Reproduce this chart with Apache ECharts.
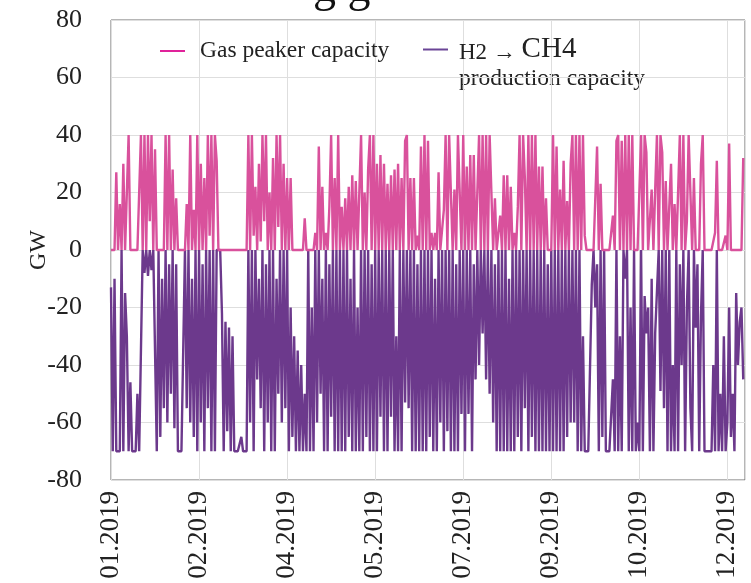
<!DOCTYPE html>
<html><head><meta charset="utf-8">
<script src="https://cdn.jsdelivr.net/npm/echarts@6/dist/echarts.min.js"></script>
<style>html,body{margin:0;padding:0;background:#fff}#c{width:751px;height:583px}</style>
</head><body><div id="c"></div>
<script>
// x positions are day-of-year indices (0..359); tick every 50 days
const xTickLabels = ['01.2019','02.2019','04.2019','05.2019','07.2019','09.2019','10.2019','12.2019'];

// Gas peaker capacity (GW), one value per day
const gasPeaker = [
  0,0,0,27,0,16,0,30,0,0,
  40,0,0,0,0,0,0,40,0,40,
  0,40,10,40,0,35,0,0,0,0,
  0,40,0,40,0,28,0,18,0,0,
  0,0,0,16,0,40,0,14,0,40,
  0,30,0,25,0,40,5,40,0,40,
  31,0,0,0,0,0,0,0,0,0,
  0,0,0,0,0,0,0,0,40,0,
  40,5,22,0,30,3,40,10,40,0,
  20,0,32,0,40,8,40,0,30,0,
  25,0,25,0,0,0,0,0,0,0,
  11,0,0,0,0,0,6,0,36,0,
  22,0,6,0,15,40,0,25,0,40,
  0,15,0,18,0,22,0,26,0,24,
  0,20,40,0,20,0,28,40,0,40,
  0,30,0,33,0,30,0,23,0,26,
  0,28,0,30,0,25,0,38,40,0,
  25,0,25,0,5,0,36,0,40,0,
  38,0,6,0,6,0,27,0,0,14,
  40,0,40,20,0,21,0,40,40,0,
  40,0,29,0,33,0,33,0,0,40,
  0,40,0,40,0,40,40,0,18,0,
  0,12,0,26,0,26,0,22,0,6,
  0,15,40,0,40,25,0,40,0,40,
  0,40,0,29,0,29,0,18,0,0,
  0,40,0,36,0,21,0,31,0,17,
  0,30,40,0,40,0,40,0,40,5,
  0,0,0,0,0,0,36,0,23,0,
  0,0,0,0,0,12,0,38,40,0,
  38,0,40,0,40,0,40,0,0,0,
  0,40,0,40,34,0,0,21,0,21,
  40,0,40,34,0,24,0,15,30,0,
  16,0,0,40,0,40,0,10,40,40,
  0,25,0,0,0,30,40,0,0,0,
  0,0,0,6,31,0,0,0,0,5,
  0,37,0,0,0,0,0,0,0,32
];

// H2 -> CH4 production capacity (GW, negative), one value per day
const h2ToCh4 = [
  -13,-70,-10,-70,-70,-70,0,-70,-15,-30,
  -70,-46,-70,-70,-70,-50,-70,-70,0,-8,
  0,-9,0,-7,0,0,-70,0,-65,-10,
  -55,0,-60,-5,-50,0,-62,-5,-70,-70,
  -70,-70,0,-55,0,-60,-10,-65,0,-70,
  0,-60,-5,-70,0,-55,0,-70,0,-70,
  0,0,0,-22,-70,-25,-63,-27,-70,-30,
  -70,-70,-70,-70,-65,-70,-70,-70,0,-60,
  0,-70,0,-45,-10,-55,0,-70,-5,-60,
  0,-70,0,-70,-10,-50,0,-60,0,-55,
  0,-70,-20,-65,-30,-70,-35,-70,-40,-70,
  -50,-70,0,-70,-20,-70,0,-60,0,-50,
  -10,-70,0,-70,-5,-58,0,-70,0,-70,
  0,-70,0,-70,0,-65,-10,-70,0,-70,
  -20,-70,0,-70,0,-65,0,-70,-5,-70,
  0,-70,0,-58,0,-70,0,-70,0,-58,
  0,-70,-30,-70,0,-70,0,-53,0,-55,
  0,-70,0,-70,-5,-70,0,-70,0,-70,
  0,-65,0,-70,-10,-70,0,-60,0,-70,
  0,-63,0,-70,0,-70,-5,-70,0,-57,
  0,-70,0,-57,0,-70,-5,-45,0,-40,
  0,-29,0,-45,0,-50,0,-60,-5,-70,
  0,-70,0,-70,0,-70,-10,-70,0,-70,
  0,-65,0,-70,0,-55,0,-70,0,-65,
  0,-70,0,-70,0,-70,0,-70,-5,-70,
  0,-70,0,-70,0,-70,0,-70,0,-65,
  0,-60,0,-60,0,-70,0,-70,-30,-70,
  -70,-70,-70,-12,0,-20,-5,-70,0,-65,
  0,-70,-70,-70,-70,-45,-70,0,-70,-30,
  -70,0,-10,0,-70,-20,-70,0,-70,-60,
  -70,0,-70,-16,-29,-20,-70,-10,-70,-29,
  -29,0,-49,0,-55,0,-70,0,-70,-40,
  -70,0,-70,-5,-40,0,-70,-20,0,-55,
  -70,0,-27,-5,-70,-23,0,-70,-70,-70,
  -70,-70,-40,-70,0,-70,-50,-70,-30,-70,
  -60,-20,-65,-50,-70,-15,-40,-25,-20,-45
];

const seriesNames = ['Gas peaker capacity', 'H2 \u2192 CH4 production capacity'];

const FONT = '"Liberation Serif","Times New Roman",serif';
const toPairs = arr => arr.map((v, i) => [i, v]);

const chart = echarts.init(document.getElementById('c'));
chart.setOption({
  animation: false,
  backgroundColor: '#fff',
  grid: {left: 111, right: 6, top: 20, bottom: 103, show: true, borderColor: '#6d6d6d', borderWidth: 1},
  xAxis: {
    type: 'value', min: 0, max: 360, interval: 50,
    axisLine: {show: false}, axisTick: {show: false},
    splitLine: {lineStyle: {color: '#dedede', width: 1}},
    axisLabel: {rotate: 90, margin: 11, fontFamily: FONT, fontSize: 27, color: '#222',
      formatter: v => xTickLabels[v / 50] || ''}
  },
  yAxis: {
    type: 'value', min: -80, max: 80, interval: 20,
    name: 'GW', nameLocation: 'middle', nameGap: 60, nameMoveOverlap: false,
    nameTextStyle: {fontFamily: FONT, fontSize: 24, color: '#222'},
    axisLine: {show: false}, axisTick: {show: false},
    splitLine: {lineStyle: {color: '#dedede', width: 1}},
    axisLabel: {margin: 29, fontFamily: FONT, fontSize: 26, color: '#222'}
  },
  legend: [
    {
      data: [{name: seriesNames[0], itemStyle: {color: '#e0229a'}}],
      left: 155, top: 34, icon: 'rect', itemWidth: 25, itemHeight: 2,
      textStyle: {fontFamily: FONT, fontSize: 23.5, color: '#222', padding: [0, 0, 0, 10]}
    },
    {
      data: [{name: seriesNames[1], itemStyle: {color: '#6a4596'}}],
      left: 418, top: 30, icon: 'rect', itemWidth: 25, itemHeight: 2,
      formatter: () => '{a|H2 \u2192 }{b|CH4}',
      textStyle: {fontFamily: FONT, color: '#222', padding: [0, 0, 0, 6],
        rich: {
          a: {fontFamily: FONT, fontSize: 23, color: '#222', verticalAlign: 'bottom'},
          b: {fontFamily: FONT, fontSize: 29, color: '#222', verticalAlign: 'bottom'}
        }}
    }
  ],
  graphic: [
    {type: 'text', left: 459, top: 67, style: {text: 'production capacity', font: '23.5px ' + FONT, fill: '#222'}},
    {type: 'text', x: 313, y: 12, style: {text: 'g g', font: '46px ' + FONT, fill: '#111', verticalAlign: 'bottom'}}
  ],
  series: [
    {name: seriesNames[1], type: 'line', data: toPairs(h2ToCh4), showSymbol: false, symbol: 'none',
      lineStyle: {color: '#6c398c', width: 2.4}, itemStyle: {color: '#6c398c'}, z: 2},
    {name: seriesNames[0], type: 'line', data: toPairs(gasPeaker), showSymbol: false, symbol: 'none',
      lineStyle: {color: '#d9519c', width: 2.4}, itemStyle: {color: '#d9519c'}, z: 3}
  ]
});
</script></body></html>
